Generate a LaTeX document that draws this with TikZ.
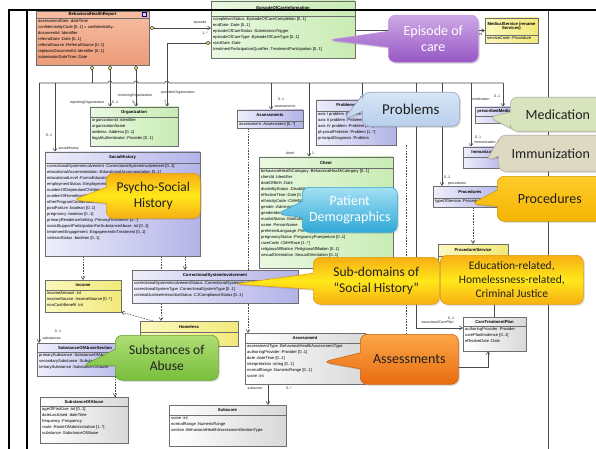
\documentclass[tikz,border=0pt]{standalone}
\usepackage{fontspec}
\setmainfont{Liberation Sans}
\newfontfamily\calloutfont{Carlito}
\usetikzlibrary{arrows.meta,shapes.callouts,shadows,backgrounds}

% box colours
\definecolor{boxgray}{HTML}{6E6E6E}
\definecolor{linegray}{HTML}{4A4A4A}
\definecolor{salmonA}{HTML}{F7BEA2}
\definecolor{salmonB}{HTML}{EC9C7A}
\definecolor{greenA}{HTML}{EAF8E2}
\definecolor{greenB}{HTML}{C8ECB3}
\definecolor{lilacA}{HTML}{EEEEFB}
\definecolor{lilacB}{HTML}{B3B3E8}
\definecolor{yelA}{HTML}{FBF8BE}
\definecolor{yelB}{HTML}{F2E97A}
\definecolor{greyA}{HTML}{FFFFFF}
\definecolor{greyB}{HTML}{D9D9D9}
\definecolor{diayellow}{HTML}{F4EC5A}
% callout colours
\definecolor{purpleA}{HTML}{CDA8E6}
\definecolor{purpleB}{HTML}{9757C4}
\definecolor{blueA}{HTML}{D7E5F6}
\definecolor{blueB}{HTML}{B8CFEC}
\definecolor{cyanA}{HTML}{A3E0F4}
\definecolor{cyanB}{HTML}{30A8D6}
\definecolor{medgreen}{HTML}{D7E4BD}
\definecolor{immbeige}{HTML}{DDD9C3}
\definecolor{goldA}{HTML}{FFCC2A}
\definecolor{goldB}{HTML}{F4B400}
\definecolor{sunA}{HTML}{F7AF14}
\definecolor{sunB}{HTML}{FFE81A}
\definecolor{limeA}{HTML}{AEDD74}
\definecolor{limeB}{HTML}{78BE3C}
\definecolor{orangeA}{HTML}{FBA748}
\definecolor{orangeB}{HTML}{E86C10}

\tikzset{
  umlclass/.style={draw=boxgray, line width=0.5pt, anchor=north west, inner sep=0pt, outer sep=0pt,
    drop shadow={shadow xshift=1.2pt, shadow yshift=-1.2pt, opacity=.3}},
  salmonbox/.style={top color=salmonA, bottom color=salmonB},
  greenbox/.style={left color=greenA, right color=greenB},
  lilacbox/.style={left color=lilacA, right color=lilacB},
  yellowbox/.style={left color=yelA, right color=yelB},
  greybox/.style={left color=greyA, right color=greyB},
  umltitle/.style={font=\bfseries\fontsize{4.2}{4.8}\selectfont, inner sep=0pt, align=center},
  umlattr/.style={font=\fontsize{4.1}{6}\selectfont, inner sep=0pt, anchor=north west, align=left},
  conn/.style={draw=linegray, line width=0.6pt},
  assoc/.style={conn, -{Straight Barb[length=3pt,width=3.6pt]}},
  owns/.style={conn, {Diamond[fill=diayellow,length=6pt,width=4pt]}-{Straight Barb[length=3pt,width=3.6pt]}},
  ownline/.style={conn, {Diamond[fill=diayellow,length=6pt,width=4pt]}-},
  depline/.style={conn, dash pattern=on 1.6pt off 1.2pt},
  dep/.style={depline, -{Straight Barb[length=3pt,width=3.6pt]}},
  role/.style={font=\fontsize{3.6}{4}\selectfont, inner sep=0.3pt, text=black!85},
  callout/.style={rectangle callout, rounded corners=7pt, anchor=north west, inner sep=2pt,
    align=center, line width=0.6pt, callout pointer width=16pt, text=black!88,
    font=\calloutfont\fontsize{14}{16}\selectfont,
    drop shadow={shadow xshift=1.5pt, shadow yshift=-1.5pt, opacity=.25}},
  notebox/.style={callout, rectangle, rounded corners=7pt},
}

% class box: name, colour style, corner, width, height, header height, title, attributes
\newcommand{\umlbox}[8]{%
  \node[umlclass, #2, minimum width=#4pt, minimum height=#5pt] (#1) at (#3) {};
  \draw[boxgray, line width=0.4pt] ([yshift=-#6pt]#1.north west) -- ([yshift=-#6pt]#1.north east);
  \node[umltitle] (#1-title) at ([yshift=-#6pt/2]#1.north) {#7};
  \node[umlattr] (#1-attrs) at ([xshift=2pt,yshift=-#6pt-1.2pt]#1.north west) {#8};
}

\begin{document}
\begin{tikzpicture}[x=1pt,y=-1pt]
\path[use as bounding box] (0,0) rectangle (596,449);
\begin{scope}[on background layer]
  \fill[white] (0,0) rectangle (596,449);
\end{scope}

% points where the links leave the long line under the report
\coordinate (jSub) at (39,83);
\coordinate (jSoc) at (55,83);
\coordinate (jBhr) at (92,83);
\coordinate (jAsm) at (271,83);
\coordinate (jCli) at (309,83);
\coordinate (jPrb) at (362,83);
\coordinate (jCtp) at (416,83);
\coordinate (jPrc) at (442,83);
\coordinate (jImm) at (471,83);
\coordinate (jMed) at (503,83);
\coordinate (cTurn) at (416,328);
\coordinate (aTurn) at (488,367);
\coordinate (pEnd) at (406,380);
\coordinate (rTop) at (548,10);
\coordinate (rBot) at (548,449);
\coordinate (oTurn) at (167,43);

% the classes
\umlbox{bhr}{salmonbox}{36,11}{113}{54}{7}{BehavioralHealthReport}{%
  assessmentDate :dateTime\\confidentialityCode [0..1] = confidentiality...\\documentId :Identifier\\
  referralDate :Date [0..1]\\referralSource :ReferralSource [0..1]\\replacesDocumentId :Identifier [0..1]\\
  submissionDateTime :Date}
\node[draw=blue!50!black, fill=blue!15, minimum size=4pt, inner sep=0pt] (bhrIcon) at (144.5,14.5) {};
\umlbox{epi}{greenbox}{211,1}{144}{57}{15}{EpisodeOfCareInformation}{%
  completionStatus :EpisodeOfCareCompletion [0..1]\\endDate :Date [0..1]\\episodeOfCareStatus :SubmissionTrigger\\
  episodeOfCareType :EpisodeOfCareType [0..1]\\startDate :Date\\
  treatmentParticipationQualifier :TreatmentParticipation [0..1]}
\umlbox{med}{yellowbox}{485,18}{53}{25}{17}{MedicalService (rename\\Services)}{serviceCode :Procedure}
\umlbox{org}{greenbox}{90,107}{88}{39}{10}{Organization}{%
  organizationId :Identifier\\organizationName\\address :Address [0..1]\\legalAuthenticator :Provider [0..1]}
\umlbox{asm}{lilacbox}{237,110}{66}{18}{11}{Assessments}{assessment :Assessment [0..*]}
\umlbox{prb}{lilacbox}{316,100}{80}{45}{11}{ProblemsDiagnosis}{%
  axis-I problem :Problem [0..*]\\axis-II problem :Problem [0..*]\\axis-IV problem :Problem [0..*]\\
  physicalProblem :Problem [1..*]\\principalDiagnosis :Problem}
\umlbox{pmd}{lilacbox}{475,107}{48}{16}{9}{prescribedMedication}{}
\umlbox{imm}{lilacbox}{463,147}{44}{21}{10}{Immunization}{}
\umlbox{prc}{lilacbox}{433,186}{74}{21}{12}{Procedures}{typeOfService :Procedure}
\umlbox{pse}{yellowbox}{438,244}{70}{18}{12}{Procedure/Service}{}
\umlbox{soc}{lilacbox}{45,152}{155}{104}{11}{SocialHistory}{%
  correctionalSystemInvolvement :CorrectionalSystemInvolvement [0..1]\\
  educationalAccommodation :EducationalAccommodation [0..1]\\educationalLevel :FormsEducation [0..1]\\
  employmentStatus :EmploymentStatus [0..1]\\numberOfDependantChildren :int [0..1]\\
  numberOfHomelessEpisodes :Homeless [0..1]\\otherProgramCoordination :boolean [0..1]\\
  postPartum :boolean [0..1]\\pregnancy :boolean [0..1]\\primaryResidenceSetting :PrimaryResidence [0..*]\\
  socialSupportParticipationForSubstanceAbuse :int [0..1]\\treatmentEngagement :EngagementInTreatment [0..1]\\
  veteranStatus :boolean [0..1]}
\umlbox{cli}{greenbox}{259,157}{134}{111}{11}{Client}{%
  behavioralHealthCategory :BehavioralHealthCategory [0..1]\\clientId :Identifier\\dateOfBirth :Date\\
  disabilityStatus :DisabilityStatus [0..*]\\effectiveTime :Date [0..1]\\ethnicityCode :CMHEthnicity [0..1]\\
  gender :AdministrativeGender\\genderIdentity :GenderIdentity [0..1]\\maritalStatus :MaritalStatus [0..1]\\
  name :PersonName\\preferredLanguage :PreferredLanguage [0..1]\\pregnancyStatus :PregnancyPuerperium [0..1]\\
  raceCode :CMHRace [1..*]\\religiousAffiliation :ReligiousAffiliation [0..1]\\
  sexualOrientation :SexualOrientation [0..1]}
\umlbox{inc}{yellowbox}{45,280}{76}{32}{10}{Income}{%
  incomeAmount :int\\incomeSource :IncomeSource [0..*]\\nonCashBenefit :int}
\umlbox{cor}{lilacbox}{132,270}{166}{33}{10}{CorrectionalSystemInvolvement}{%
  correctionalSystemInvolvementStatus :CorrectionalSystemInvolvementStatus\\
  correctionalSystemType :CorrectionalSystemType [0..1]\\criminalJusticeInteractionStatus :CJComplianceStatus [0..1]}
\umlbox{hom}{yellowbox}{140,321}{98}{25}{11}{Homeless}{}
\umlbox{sas}{lilacbox}{37,343}{96}{33}{9}{SubstanceOfAbuseSection}{%
  primarySubstance :SubstanceOfAbuse\\secondarySubstance :SubstanceOfAbuse\\tertiarySubstance :SubstanceOfAbuse}
\umlbox{soa}{greybox}{40,397}{88}{46}{9}{SubstanceOfAbuse}{%
  ageOfFirstUse :int [0..1]\\dateLastUsed :dateTime\\frequency :Frequency\\
  route :RouteOfAdministration [1..*]\\substance :SubstanceOfAbuse}
\umlbox{ass}{greybox}{245,333}{120}{51}{10}{Assessment}{%
  assessmentType :BehavioralHealthAssessmentType\\authoringProvider :Provider [0..1]\\date :dateTime [0..1]\\
  interpretation :string [0..1]\\normalRange :NumericRange [0..1]\\score :int}
\umlbox{sub}{greybox}{169,405}{117}{41}{10}{Subscore}{%
  score :int\\normalRange :NumericRange\\section :BehavioralHealthAssessmentSectionType}
\umlbox{ctp}{greybox}{463,317}{63}{34}{9}{CareTreatmentPlan}{%
  authoringProvider :Provider\\carePlanEvidence [0..1]\\effectiveDate :Date}

% the links go under the classes
\begin{scope}[on background layer]
% the long line, with hops where the organization links cross it
\draw[conn] (jSub) -- (108,83) arc[start angle=180,end angle=360,radius=2]
  -- (134,83) arc[start angle=180,end angle=360,radius=2]
  -- (165,83) arc[start angle=180,end angle=360,radius=2] -- (jMed);
\draw[conn] (rTop) -- (rBot);

% links from the report
\draw[ownline] (92,0 |- bhr.south) -- (jBhr);
\draw[owns] (110,0 |- bhr.south) -- (110,0 |- org.north);
\draw[owns] (136,0 |- bhr.south) -- (136,0 |- org.north);
\draw[owns] (bhr.east |- 0,28) -- (epi.west |- 0,28);
\draw[owns] (epi.west |- oTurn) -- (oTurn) -- (oTurn |- org.north);
\draw[assoc] (epi.east |- med.west) -- (med.west);
\draw[assoc] (jSub) -- (jSub |- sas.north);
\draw[assoc] (jSoc) -- (jSoc |- soc.north);
\draw[assoc] (jAsm) -- (jAsm |- asm.north);
\draw[assoc] (jCli) -- (jCli |- cli.north);
\draw[assoc] (jPrb) -- (jPrb |- prb.north);
\draw[assoc] (jCtp) -- (cTurn) -- (cTurn -| ctp.west);
\draw[assoc] (jPrc) -- (jPrc |- prc.north);
\draw[assoc] (jImm) -- (jImm |- imm.north);
\draw[assoc] (jMed) -- (jMed |- pmd.north);

% dependencies and the lower links
\draw[dep] (83,0 |- soc.south) -- (83,0 |- inc.north);
\draw[dep] (161,0 |- soc.south) -- (161,0 |- hom.north);
\draw[dep] (185,0 |- soc.south) -- (185,0 |- cor.north);
\draw[dep] ([xshift=13pt]hom.north west) -- (inc.south east);
\draw[dep] (115,0 |- sas.south) -- (115,0 |- soa.north);
\draw[dep] (248,0 |- asm.south) -- (248,0 |- ass.north);
\draw[dep] (473,0 |- prc.south) -- (473,0 |- pse.north);
\draw[depline] (pEnd |- prb.south) -- (pEnd);
\draw[assoc] (268,0 |- ass.south) -- (268,0 |- sub.north);
\draw[assoc] (ass.east |- aTurn) -- (aTurn) -- (aTurn |- ctp.south);
\draw[conn] (494,0 |- pse.south) -- (494,0 |- ctp.north);
\end{scope}

% role names and multiplicities
\node[role] (lEp) at (200,23) {episode};
\node[role] (lEpM) at (205,33) {1..*};
\node[role, anchor=east] (lSrv) at (483,34) {services};
\node[role, anchor=east] (lRep) at (105,103) {reportingOrganization};
\node[role] (lRepM) at (115,102) {0..1};
\node[role] (lRec) at (135,96) {receivingOrganization};
\node[role] (lRecM) at (135,102) {0..*};
\node[role] (lPro) at (178,93) {providerOrganization};
\node[role] (lProM) at (165,101) {1};
\node[role] (lSocM) at (49,135) {0..1};
\node[role, anchor=west] (lSoc) at (58,149) {socialHistory};
\node[role] (lSubM) at (58,331) {0..1};
\node[role, anchor=west] (lSub) at (42,338) {substances};
\node[role] (lAsmM) at (281,99) {0..1};
\node[role] (lAsm) at (285,106) {assessments};
\node[role] (lCli) at (290,153) {client};
\node[role] (lCliM) at (313,153) {1};
\node[role] (lPrcM) at (447,177) {0..1};
\node[role] (lPrc) at (457,184) {procedures};
\node[role] (lImmM) at (478,137) {0..1};
\node[role, anchor=west] (lImm) at (474,142) {immunization};
\node[role] (lMed) at (481,99) {medication};
\node[role] (lMedM) at (497,96) {0..1};
\node[role, anchor=west] (lCtp) at (421,322) {associatedCarePlan};
\node[role] (lCtpM) at (451,318) {0..1};
\node[role] (lSco) at (255,388) {subscore};
\node[role] (lScoM) at (289,388) {0..*};

% slide frame
\draw[line width=2.6pt] (9,449) -- (9,10) -- (596,10);
\draw[line width=1.1pt] (27,10) -- (27,449);

% the notes
\node[callout, minimum width=90pt, minimum height=47pt, top color=purpleA, bottom color=purpleB,
  draw=purpleA!80!purpleB, text=white, callout absolute pointer={(328,40)}] (epiNote) at (388,15) {Episode of\\care};
\node[callout, minimum width=97pt, minimum height=34pt, top color=blueA, bottom color=blueB,
  draw=blueB!80!black, font=\calloutfont\fontsize{15}{17}\selectfont,
  callout absolute pointer={(343,120)}] (prbNote) at (362,92) {Problems};
\node[callout, minimum width=95pt, minimum height=34pt, fill=medgreen, draw=medgreen!80!black,
  callout absolute pointer={(489,117)}] (medNote) at (510,97) {Medication};
\node[callout, minimum width=105pt, minimum height=36pt, fill=immbeige, draw=immbeige!80!black,
  callout absolute pointer={(486,161)}] (immNote) at (498,135) {Immunization};
\node[callout, minimum width=105pt, minimum height=45pt, top color=goldA, bottom color=goldB,
  draw=goldB!85!black, callout absolute pointer={(471,204)}] (prcNote) at (497,176) {Procedures};
\node[callout, minimum width=94pt, minimum height=45pt, top color=sunA, bottom color=sunA, middle color=sunB,
  draw=sunA!90!black, font=\calloutfont\fontsize{13.5}{16}\selectfont,
  callout absolute pointer={(73,200)}] (psyNote) at (106,173) {Psycho-Social\\History};
\node[callout, minimum width=95pt, minimum height=45pt, top color=cyanA, bottom color=cyanB,
  draw=cyanB, text=white, callout absolute pointer={(277,214)}] (patNote) at (302,187) {Patient\\Demographics};
\node[callout, minimum width=126pt, minimum height=47pt, top color=sunA, bottom color=sunA, middle color=sunB,
  draw=sunA!90!black, font=\calloutfont\fontsize{13.5}{16}\selectfont,
  callout absolute pointer={(234,284)}] (subNote) at (313,257) {Sub-domains of\\“Social History”};
\node[notebox, minimum width=143pt, minimum height=49pt, top color=sunA, bottom color=sunA, middle color=sunB,
  draw=sunA!90!black, font=\calloutfont\fontsize{11.5}{14}\selectfont] (eduNote) at (440,255)
  {Education-related,\\Homelessness-related,\\Criminal Justice};
\node[callout, minimum width=103pt, minimum height=45pt, top color=limeA, bottom color=limeB,
  draw=limeB!85!black, font=\calloutfont\fontsize{13.5}{16}\selectfont,
  callout absolute pointer={(82,366)}] (sabNote) at (115,335) {Substances of\\Abuse};
\node[callout, minimum width=98pt, minimum height=50pt, top color=orangeA, bottom color=orangeB,
  draw=orangeB!90!black, callout absolute pointer={(323,362)}] (assNote) at (360,334) {Assessments};

\end{tikzpicture}
\end{document}
